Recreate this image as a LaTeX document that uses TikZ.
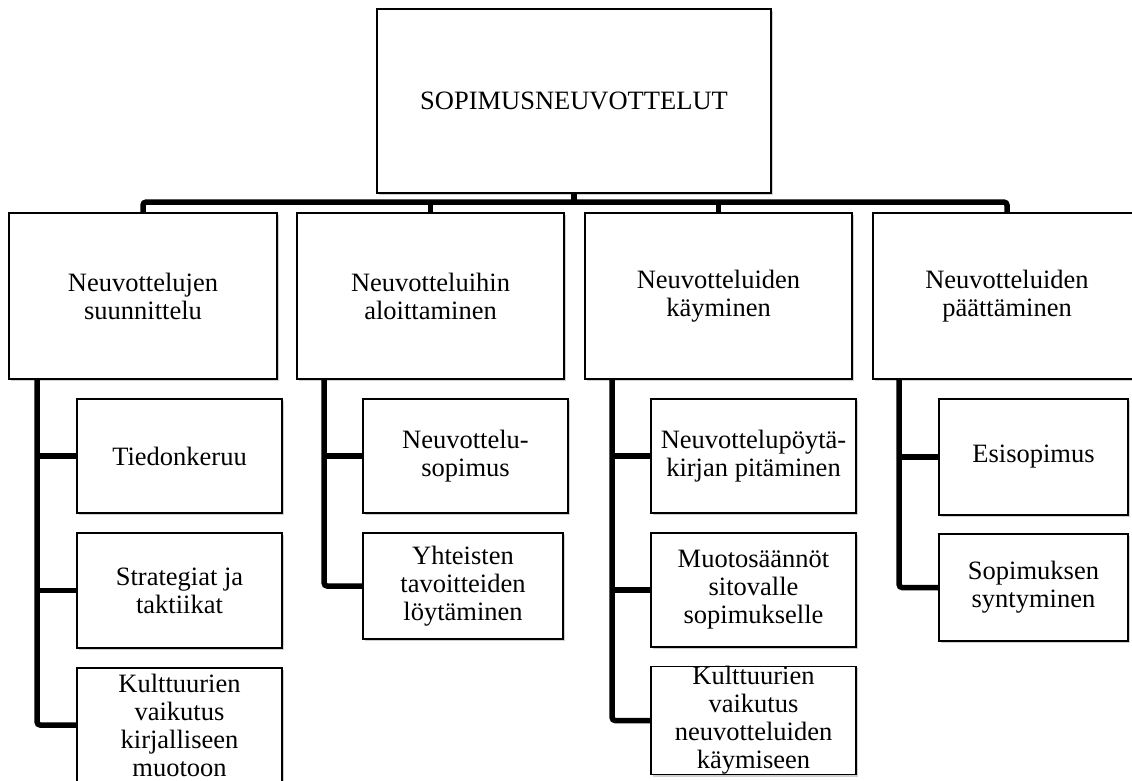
\documentclass[tikz,border=0pt]{standalone}
\usepackage{fontspec}
\setmainfont{Liberation Serif}
\usetikzlibrary{shadows}

\tikzset{
  box/.style={draw=black, line width=1.8pt, fill=white, inner sep=0pt,
    align=center, font=\fontsize{26.5pt}{28pt}\selectfont,
    drop shadow={shadow xshift=1.5pt, shadow yshift=-2pt, opacity=0.3, fill=black!60}},
  conn/.style={line width=5.5pt, draw=black, rounded corners=3pt},
}

\begin{document}
\begin{tikzpicture}[x=1pt, y=-1pt]
\useasboundingbox (0,0) rectangle (1132,780);
\fill[white] (0,0) rectangle (1132,780);
\clip (0,0) rectangle (1132,780);

% root
\node[box, minimum width=394pt, minimum height=184pt] (top) at (574,101) {SOPIMUSNEUVOTTELUT};

% phases
\node[box, minimum width=268pt, minimum height=166pt] (A) at (143,296) {Neuvottelujen\\suunnittelu};
\node[box, minimum width=267pt, minimum height=166pt] (B) at (430.5,296) {Neuvotteluihin\\aloittaminen};
\node[box, minimum width=267pt, minimum height=166pt] (C) at (718.5,296) {Neuvotteluiden\\käyminen};
\node[box, minimum width=268pt, minimum height=166pt] (D) at (1007,296) {Neuvotteluiden\\päättäminen};

% planning
\node[box, minimum width=205pt, minimum height=114pt] (a1) at (179.5,456) {Tiedonkeruu};
\node[box, minimum width=205pt, minimum height=115pt] (a2) at (179.5,590.5) {Strategiat ja\\taktiikat};
\node[box, minimum width=205pt, minimum height=114pt] (a3) at (179.5,725) {Kulttuurien\\vaikutus\\kirjalliseen\\muotoon};

% opening
\node[box, minimum width=205pt, minimum height=114pt] (b1) at (465.5,456) {Neuvottelu-\\sopimus};
\node[box, minimum width=200pt, minimum height=106pt] (b2) at (463,586) {Yhteisten\\tavoitteiden\\löytäminen};

% conducting
\node[box, minimum width=205pt, minimum height=114pt] (c1) at (753.5,456) {Neuvottelupöytä-\\kirjan pitäminen};
\node[box, minimum width=205pt, minimum height=114pt] (c2) at (753.5,590) {Muotosäännöt\\sitovalle\\sopimukselle};
\node[box, minimum width=205pt, minimum height=105pt] (c3) at (753.5,720.5) {Kulttuurien\\vaikutus\\neuvotteluiden\\käymiseen};

% closing
\node[box, minimum width=189pt, minimum height=116pt] (d1) at (1033.5,457) {Esisopimus};
\node[box, minimum width=189pt, minimum height=107pt] (d2) at (1033.5,587.5) {Sopimuksen\\syntyminen};

% bus from the root to the phases
\coordinate (bus) at ([yshift=10pt]A.north);
\draw[conn] (A.north) -- (bus) -| (D.north);
\draw[conn] (top.south) -- (top.south |- bus);
\draw[conn] (B.north) -- (B.north |- bus);
\draw[conn] (C.north) -- (C.north |- bus);

% trunks from each phase to its steps
\coordinate (ta) at ([xshift=29pt]A.south west);
\draw[conn] (ta) |- (a3.west);
\draw[conn] (a1.west -| ta) -- (a1.west);
\draw[conn] (a2.west -| ta) -- (a2.west);

\coordinate (tb) at ([xshift=28pt]B.south west);
\draw[conn] (tb) |- (b2.west);
\draw[conn] (b1.west -| tb) -- (b1.west);

\coordinate (tc) at ([xshift=28pt]C.south west);
\draw[conn] (tc) |- (c3.west);
\draw[conn] (c1.west -| tc) -- (c1.west);
\draw[conn] (c2.west -| tc) -- (c2.west);

\coordinate (td) at ([xshift=27pt]D.south west);
\draw[conn] (td) |- (d2.west);
\draw[conn] (d1.west -| td) -- (d1.west);
\end{tikzpicture}
\end{document}
